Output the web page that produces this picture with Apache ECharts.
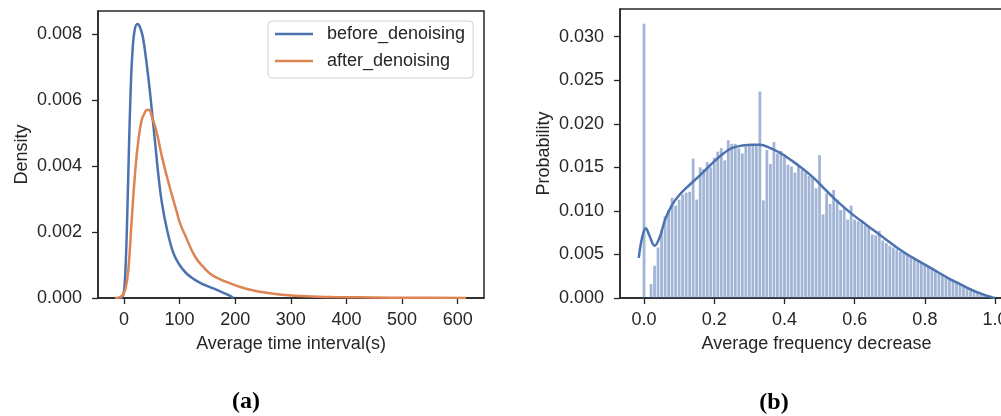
<!DOCTYPE html>
<html>
<head>
<meta charset="utf-8">
<script src="https://cdn.jsdelivr.net/npm/echarts@6.0.0/dist/echarts.min.js"></script>
<style>
  html, body { margin: 0; padding: 0; background: #fff; }
  #chart { width: 1001px; height: 416px; }
</style>
</head>
<body>
<div id="chart"></div>
<script>
// (a) KDE of the average time interval
const beforeX = [-8, -3, 0, 3, 6, 9, 12, 15, 19, 24, 29, 34, 40, 45, 50, 56, 62, 68, 77, 89,
  100, 112, 125, 137, 150, 165, 180, 190, 197];
const beforeY = [0, 0.00003, 0.0002, 0.0010, 0.0026, 0.0046, 0.0063, 0.0074, 0.0081, 0.0083,
  0.0082, 0.0079, 0.0072, 0.0065, 0.0057, 0.0047, 0.0037, 0.0029, 0.0021, 0.00135,
  0.0010, 0.00075, 0.00058, 0.00046, 0.00036, 0.00026, 0.00015, 0.00007, 0];
const afterX = [-16, -8, -2, 3, 8, 14, 20, 26, 32, 37, 41, 45, 50, 59, 68, 80, 95, 100, 110, 128,
  145, 158, 175, 190, 212, 235, 256, 285, 316, 350, 376, 420, 480, 550, 615];
const afterY = [0, 0.00002, 0.0001, 0.0003, 0.0009, 0.0024, 0.0038, 0.0048, 0.0054, 0.0056,
  0.0057, 0.0057, 0.0055, 0.0050, 0.0043, 0.0035, 0.0026, 0.0023, 0.0019, 0.00125,
  0.0009, 0.0007, 0.00055, 0.00045, 0.00032, 0.00022, 0.00016, 0.0001, 0.00006, 0.00004,
  0.00003, 0.00002, 0.00001, 0.000005, 0];
const timeTicks = [0, 100, 200, 300, 400, 500, 600];
const densityTicks = [0, 0.002, 0.004, 0.006, 0.008];

// (b) histogram of the average frequency decrease, bins of 0.01 starting at 0
const binStart = 0;
const binWidth = 0.01;
const binProb = [
  0.0315, 0, 0.0016, 0.0037, 0.0058, 0.0078, 0.0094, 0.0101, 0.0115, 0.0106,
  0.0113, 0.0119, 0.0121, 0.0122, 0.0160, 0.0113, 0.0150, 0.0148, 0.0156, 0.0150,
  0.0161, 0.0168, 0.0172, 0.0158, 0.0181, 0.0177, 0.0177, 0.0172, 0.0166, 0.0174,
  0.0175, 0.0175, 0.0175, 0.0237, 0.0112, 0.0170, 0.0154, 0.0179, 0.0166, 0.0169,
  0.0162, 0.0153, 0.0151, 0.0144, 0.0152, 0.0147, 0.0144, 0.0140, 0.0138, 0.0126,
  0.0164, 0.0096, 0.0120, 0.0108, 0.0124, 0.0113, 0.0101, 0.0104, 0.0090, 0.0106,
  0.0090, 0.0088, 0.0087, 0.0083, 0.0081, 0.0073, 0.0072, 0.0077, 0.0066, 0.0063,
  0.0060, 0.0058, 0.0056, 0.0053, 0.0052, 0.0050, 0.0048, 0.0046, 0.0043, 0.0041,
  0.0038, 0.0036, 0.0034, 0.0031, 0.0029, 0.0027, 0.0025, 0.0023, 0.0021, 0.0019,
  0.0017, 0.0015, 0.0013, 0.0011, 0.0009, 0.0007, 0.0005, 0.0004, 0.0002, 0.0001
];
const kdeX = [-0.015, -0.005, 0.005, 0.015, 0.03, 0.045, 0.06, 0.08, 0.10, 0.13, 0.16, 0.19,
  0.22, 0.25, 0.28, 0.31, 0.33, 0.36, 0.39, 0.42, 0.45, 0.48, 0.51, 0.54, 0.57, 0.60,
  0.63, 0.66, 0.69, 0.72, 0.75, 0.78, 0.81, 0.84, 0.87, 0.90, 0.93, 0.96, 0.99, 1.00];
const kdeY = [0.0046, 0.0070, 0.0080, 0.0072, 0.0060, 0.0070, 0.0090, 0.0107, 0.0118, 0.0130,
  0.0141, 0.0153, 0.0164, 0.0172, 0.0175, 0.0176, 0.0176, 0.0172, 0.0166, 0.0158, 0.0149,
  0.0139, 0.0127, 0.0115, 0.0104, 0.0094, 0.0085, 0.0076, 0.0067, 0.0058, 0.0050, 0.0043,
  0.0036, 0.0029, 0.0022, 0.0016, 0.0010, 0.0005, 0.0001, 0];
const freqTicks = [0, 0.2, 0.4, 0.6, 0.8, 1.0];
const probTicks = [0, 0.005, 0.010, 0.015, 0.020, 0.025, 0.030];

const ink = '#262626';
const font = 'Liberation Sans';
const blue = '#4c72b0';
const orange = '#dd8452';

const zip = (xs, ys) => xs.map((x, i) => [x, ys[i]]);
const histData = binProb.map((p, i) => [binStart + i * binWidth, p]);

// shared look of every axis; ticks and labels come from the tick arrays
function valueAxis(ticks, fmt, margin, extra) {
  return Object.assign({
    type: 'value',
    splitLine: { show: false },
    axisLine: { show: true, onZero: false, lineStyle: { color: ink, width: 1.5 } },
    axisTick: { show: true, inside: false, length: 6, lineStyle: { color: ink, width: 1.3 }, customValues: ticks },
    axisLabel: { color: ink, fontSize: 18, fontFamily: font, margin: margin, customValues: ticks, formatter: fmt },
    nameLocation: 'middle',
    nameTextStyle: { color: ink, fontSize: 18, fontFamily: font }
  }, extra);
}

const chart = echarts.init(document.getElementById('chart'));

chart.setOption({
  animation: false,
  backgroundColor: '#fff',
  grid: [
    { left: 98, top: 11, width: 386, height: 287, show: true, borderColor: ink, borderWidth: 1.5,
      outerBoundsMode: 'none', containLabel: false },
    { left: 620, top: 9, width: 393, height: 289, show: true, borderColor: ink, borderWidth: 1.5,
      outerBoundsMode: 'none', containLabel: false }
  ],
  xAxis: [
    valueAxis(timeTicks, v => String(v), 13, {
      gridIndex: 0, min: -46.75, max: 647.4,
      name: 'Average time interval(s)', nameGap: 37
    }),
    valueAxis(freqTicks, v => v.toFixed(1), 13, {
      gridIndex: 1, min: -0.0684, max: 1.051,
      name: 'Average frequency decrease', nameGap: 37
    })
  ],
  yAxis: [
    valueAxis(densityTicks, v => v.toFixed(3), 16, {
      gridIndex: 0, min: 0, max: 0.008697,
      name: 'Density', nameGap: 67
    }),
    valueAxis(probTicks, v => v.toFixed(3), 16, {
      gridIndex: 1, min: 0, max: 0.03318,
      name: 'Probability', nameGap: 67
    })
  ],
  legend: {
    orient: 'vertical',
    left: 268, top: 21,
    data: [
      { name: 'before_denoising', icon: 'rect' },
      { name: 'after_denoising', icon: 'rect' }
    ],
    itemWidth: 38, itemHeight: 2.5, itemGap: 9,
    padding: [4, 8, 8, 7],
    backgroundColor: 'rgba(255,255,255,0.8)',
    borderColor: '#d0d0d0', borderWidth: 1, borderRadius: 4,
    textStyle: { color: ink, fontSize: 18, fontFamily: font, padding: [0, 0, 0, 9] }
  },
  graphic: [
    { type: 'text', x: 246, y: 402, style: { text: '(a)', font: 'bold 24px "Liberation Serif"', fill: '#000', align: 'center', verticalAlign: 'middle' } },
    { type: 'text', x: 774, y: 403, style: { text: '(b)', font: 'bold 24px "Liberation Serif"', fill: '#000', align: 'center', verticalAlign: 'middle' } }
  ],
  series: [
    {
      name: 'before_denoising', type: 'line', xAxisIndex: 0, yAxisIndex: 0,
      data: zip(beforeX, beforeY), smooth: 0.4, symbol: 'none',
      itemStyle: { color: blue }, lineStyle: { color: blue, width: 2.5 }
    },
    {
      name: 'after_denoising', type: 'line', xAxisIndex: 0, yAxisIndex: 0,
      data: zip(afterX, afterY), smooth: 0.5, symbol: 'none',
      itemStyle: { color: orange }, lineStyle: { color: orange, width: 2.5 }
    },
    {
      name: 'hist', type: 'bar', xAxisIndex: 1, yAxisIndex: 1,
      data: histData, barWidth: 2.8,
      itemStyle: { color: 'rgba(76,114,176,0.52)' }, z: 1
    },
    {
      name: 'kde', type: 'line', xAxisIndex: 1, yAxisIndex: 1,
      data: zip(kdeX, kdeY), smooth: 0.4, symbol: 'none',
      lineStyle: { color: blue, width: 2.5 }, itemStyle: { color: blue }, z: 3
    }
  ]
});
</script>
</body>
</html>
